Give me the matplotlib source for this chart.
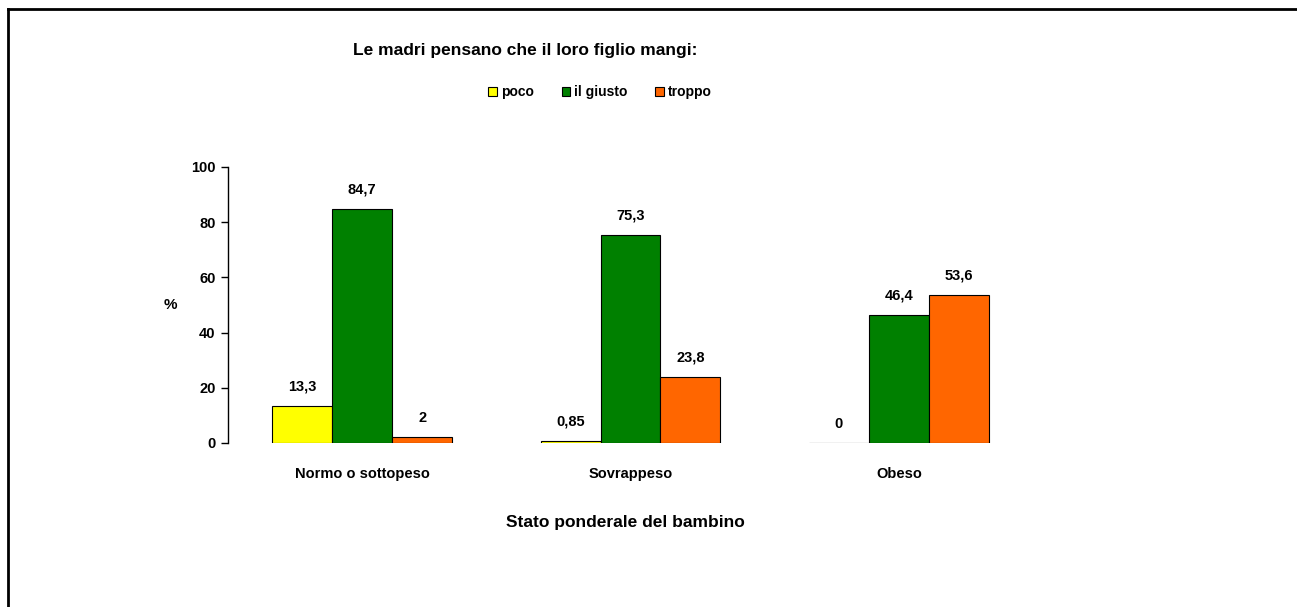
import matplotlib
matplotlib.use("Agg")
import matplotlib.pyplot as plt
import numpy as np
from matplotlib.lines import Line2D

plt.rcParams['font.family'] = ['Liberation Sans', 'DejaVu Sans']
plt.rcParams['font.weight'] = 'bold'

categories = ["Normo o sottopeso", "Sovrappeso", "Obeso"]
series_names = ["poco", "il giusto", "troppo"]
poco = [13.3, 0.85, 0.0]
giusto = [84.7, 75.3, 46.4]
troppo = [2.0, 23.8, 53.6]
poco_lbl = ["13,3", "0,85", "0"]
giusto_lbl = ["84,7", "75,3", "46,4"]
troppo_lbl = ["2", "23,8", "53,6"]
colors = ["#FFFF00", "#008000", "#FF6600"]
yticks = [0, 20, 40, 60, 80, 100]

W, H = 1297, 607
fig = plt.figure(figsize=(W / 100, H / 100), dpi=100)
ax = fig.add_axes([228 / W, 1 - 443 / H, (1033 - 228) / W, (443 - 167) / H])

x = np.arange(len(categories))
bw = 0.2235
series = [poco, giusto, troppo]
labels = [poco_lbl, giusto_lbl, troppo_lbl]
for i, (vals, lbls, col, name) in enumerate(zip(series, labels, colors, series_names)):
    pos = x + (i - 1) * bw
    ax.bar(pos, vals, width=bw, color=col, edgecolor="black", linewidth=0.8, label=name)
    for px, v, t in zip(pos, vals, lbls):
        ax.annotate(t, (px, v), xytext=(0, 14), textcoords="offset points",
                    ha="center", va="center", fontsize=10.5, fontweight="bold")

ax.set_xlim(-0.5, 2.5)
ax.set_ylim(0, 100)
ax.set_yticks(yticks)
ax.set_yticklabels([str(t) for t in yticks], fontsize=10.5, fontweight="bold")
ax.set_xticks(x)
ax.set_xticklabels(categories, fontsize=10.5, fontweight="bold")
ax.tick_params(axis="x", length=0, pad=17)
ax.tick_params(axis="y", length=5, width=1, direction="out", pad=4)
for s in ["top", "right", "bottom"]:
    ax.spines[s].set_visible(False)
ax.spines["left"].set_linewidth(1)

ax.set_xlabel("Stato ponderale del bambino", fontsize=12.5, fontweight="bold", va="center")
ax.xaxis.set_label_coords((625 - 228) / 805, -(523 - 443) / 276)
ax.set_ylabel("%", fontsize=11, fontweight="bold", rotation=0, va="center", ha="center")
ax.yaxis.set_label_coords((170 - 228) / 805, (443 - 305) / 276)

fig.text(525 / W, 1 - 50 / H, "Le madri pensano che il loro figlio mangi:",
         ha="center", va="center", fontsize=12.5, fontweight="bold")

leg = fig.legend(loc="center", bbox_to_anchor=(600 / W, 1 - 92 / H), ncol=3, frameon=False,
                 handlelength=0.6, handleheight=0.6, handletextpad=0.3, columnspacing=2.0,
                 prop={"size": 10, "weight": "bold"})

fig.add_artist(Line2D([8 / W, 8 / W], [1 - 9 / H, -0.1], transform=fig.transFigure,
                      color="black", linewidth=2))
fig.add_artist(Line2D([8 / W, 1.1], [1 - 9 / H, 1 - 9 / H], transform=fig.transFigure,
                      color="black", linewidth=2))

fig.savefig("out.png", dpi=100, facecolor="white")
